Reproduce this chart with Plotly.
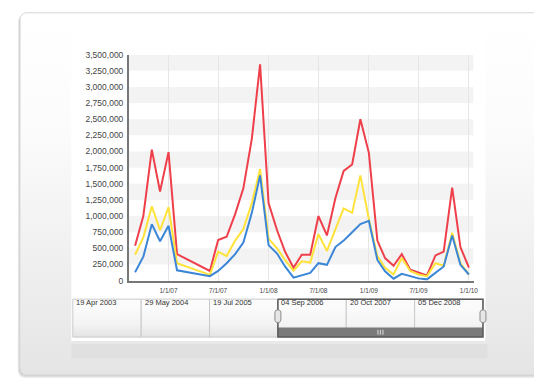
import plotly.graph_objects as go

W, H = 539, 384

# ---------------- data ----------------
months = ["2006-09-01", "2006-10-01", "2006-11-01", "2006-12-01", "2007-01-01", "2007-02-01",
          "2007-06-01", "2007-07-01", "2007-08-01", "2007-09-01", "2007-10-01", "2007-11-01",
          "2007-12-01", "2008-01-01", "2008-02-01", "2008-03-01", "2008-04-01", "2008-05-01",
          "2008-06-01", "2008-07-01", "2008-08-01", "2008-09-01", "2008-10-01", "2008-11-01",
          "2008-12-01", "2009-01-01", "2009-02-01", "2009-03-01", "2009-04-01", "2009-05-01",
          "2009-06-01", "2009-07-01", "2009-08-01", "2009-09-01", "2009-10-01", "2009-11-01",
          "2009-12-01", "2010-01-01"]

red = [540000, 1000000, 2030000, 1380000, 1990000, 410000,
       150000, 630000, 680000, 1030000, 1430000, 2200000,
       3350000, 1200000, 780000, 450000, 200000, 400000,
       400000, 1000000, 700000, 1280000, 1700000, 1800000,
       2500000, 1980000, 620000, 350000, 230000, 410000,
       170000, 120000, 80000, 390000, 450000, 1440000,
       520000, 200000]

yellow = [400000, 670000, 1150000, 780000, 1140000, 270000,
          90000, 450000, 380000, 620000, 800000, 1200000,
          1730000, 650000, 500000, 320000, 155000, 300000,
          280000, 720000, 460000, 800000, 1120000, 1050000,
          1630000, 950000, 380000, 200000, 95000, 350000,
          150000, 95000, 70000, 270000, 230000, 740000,
          270000, 95000]

blue = [130000, 370000, 875000, 610000, 850000, 160000,
        70000, 150000, 270000, 410000, 590000, 1050000,
        1630000, 550000, 420000, 220000, 45000, 85000,
        120000, 270000, 245000, 520000, 620000, 750000,
        875000, 925000, 320000, 145000, 30000, 105000,
        70000, 35000, 20000, 120000, 220000, 700000,
        245000, 95000]

y_max = 3500000
y_step = 250000
x_range = ["2006-08-09", "2010-01-18"]
nav_labels = ["19 Apr 2003", "29 May 2004", "19 Jul 2005", "04 Sep 2006", "20 Oct 2007", "05 Dec 2008"]

RED, YELLOW, BLUE = "#ef3f4a", "#ffe23a", "#3b86d6"

# ---------------- helpers (decoration geometry in pixel space) ----------------
def rrect(x0, y0, x1, y1, r):
    import math
    xs, ys = [], []
    corners = [(x1 - r, y0 + r, -90, 0), (x1 - r, y1 - r, 0, 90),
               (x0 + r, y1 - r, 90, 180), (x0 + r, y0 + r, 180, 270)]
    for cx, cy, a0, a1 in corners:
        for k in range(7):
            a = math.radians(a0 + (a1 - a0) * k / 6)
            xs.append(cx + r * math.cos(a))
            ys.append(cy + r * math.sin(a))
    xs.append(xs[0]); ys.append(ys[0])
    return xs, ys

fig = go.Figure()

def deco(xs, ys, fill=None, line=None, lw=0, grad=None):
    kw = dict(x=xs, y=ys, xaxis="x", yaxis="y", mode="lines", fill="toself",
              hoverinfo="skip", showlegend=False,
              line=dict(color=line or "rgba(0,0,0,0)", width=lw))
    if grad is not None:
        kw["fillgradient"] = grad
    else:
        kw["fillcolor"] = fill
    fig.add_trace(go.Scatter(**kw))

# card shadow
for i, a in enumerate([0.05, 0.06, 0.07]):
    xs, ys = rrect(19 - i * 0.5, 9 + i, 560, 381 + i, 7)
    deco(xs, ys, fill=f"rgba(0,0,0,{a})")
# card with vertical gradient
xs, ys = rrect(20, 8, 560, 380, 7)
deco(xs, ys, line="#d6d6d6", lw=1,
     grad=dict(type="vertical", start=8, stop=380,
               colorscale=[[0, "#ffffff"], [0.3, "#fcfcfc"], [0.65, "#f0f0f0"], [1, "#e4e4e4"]]))
# white chart panel
deco([72, 490, 490, 72, 72], [26, 26, 345, 345, 26], fill="#ffffff")
# gray strip under navigator
deco([72, 492, 492, 72, 72], [348, 348, 363, 363, 348], fill="#e0e0e0")

# navigator cells
nx0, nx1, ny0, ny1 = 73.5, 487.5, 302, 341
cw = (nx1 - nx0) / len(nav_labels)
for i, lab in enumerate(nav_labels):
    cx0 = nx0 + i * cw
    cx1 = cx0 + cw
    deco([cx0, cx1, cx1, cx0, cx0], [ny0, ny0, ny1, ny1, ny0], line="#c9c9c9", lw=1,
         grad=dict(type="vertical", start=ny0, stop=ny1,
                   colorscale=[[0, "#fbfbfb"], [0.45, "#f3f3f3"], [1, "#d8d8d8"]]))
    fig.add_annotation(x=cx0 + 1.5, y=ny0 + 3.5, xref="x", yref="y", text=lab,
                       showarrow=False, xanchor="left", yanchor="middle",
                       font=dict(family="Liberation Sans", size=7.5, color="#333333"))

# selected range
sx0 = nx0 + 3 * cw
deco([sx0, nx1, nx1, sx0, sx0], [331, 331, ny1, ny1, 331], fill="#7a7a7a")
fig.add_trace(go.Scatter(x=[sx0, nx1, nx1, sx0, sx0], y=[ny0, ny0, ny1, ny1, ny0],
                         xaxis="x", yaxis="y", mode="lines", hoverinfo="skip", showlegend=False,
                         line=dict(color="#5a5a5a", width=1.5)))
# grip (three short light bars)
gc = (sx0 + nx1) / 2
gx, gy = [], []
for d in (-2.5, 0, 2.5):
    gx += [gc + d, gc + d, None]
    gy += [333.5, 338.5, None]
fig.add_trace(go.Scatter(x=gx, y=gy, xaxis="x", yaxis="y", mode="lines", hoverinfo="skip",
                         showlegend=False, line=dict(color="#d0d0d0", width=1.2)))
for hx in (sx0, nx1):
    xs, ys = rrect(hx - 3, 313, hx + 3, 326, 2.5)
    deco(xs, ys, fill="#e6e6e6", line="#8a8a8a", lw=1)

# ---------------- chart ----------------
for name, vals, col in [("Series 1", red, RED), ("Series 2", yellow, YELLOW), ("Series 3", blue, BLUE)]:
    fig.add_trace(go.Scatter(x=months, y=vals, xaxis="x2", yaxis="y2", mode="lines", name=name,
                             line=dict(color=col, width=2), hoverinfo="skip", showlegend=False))

# alternating background bands
v = y_max - y_step
while v >= 0:
    fig.add_shape(type="rect", xref="x2", yref="y2", x0=x_range[0], x1=x_range[1],
                  y0=v, y1=v + y_step, fillcolor="#f3f3f3", line_width=0, layer="below")
    v -= 2 * y_step

fig.update_layout(
    width=W, height=H, margin=dict(l=0, r=0, t=0, b=0),
    paper_bgcolor="#ffffff", plot_bgcolor="rgba(0,0,0,0)",
    xaxis=dict(domain=[0, 1], range=[0, W], visible=False, fixedrange=True),
    yaxis=dict(domain=[0, 1], range=[H, 0], visible=False, fixedrange=True),
    xaxis2=dict(domain=[130 / W, 478 / W], anchor="y2", type="date", range=x_range,
                tick0="2007-01-01", dtick="M6", tickformat="%-m/%-d/%y",
                showgrid=True, gridcolor="#e6e6e6", gridwidth=1, zeroline=False,
                showline=True, linecolor="#777777", linewidth=1.5,
                ticks="outside", ticklen=3, tickcolor="rgba(0,0,0,0)",
                tickfont=dict(family="Liberation Sans", size=6.5, color="#444444")),
    yaxis2=dict(domain=[1 - 283 / H, 1 - 51 / H], anchor="x2", range=[0, y_max],
                tick0=0, dtick=y_step, tickformat=",d", showgrid=False, zeroline=False,
                showline=True, linecolor="#777777", linewidth=1.5,
                ticks="outside", ticklen=2, tickcolor="rgba(0,0,0,0)",
                tickfont=dict(family="Liberation Sans", size=8.5, color="#444444")),
    hovermode=False,
)

fig.write_html("out.html")
